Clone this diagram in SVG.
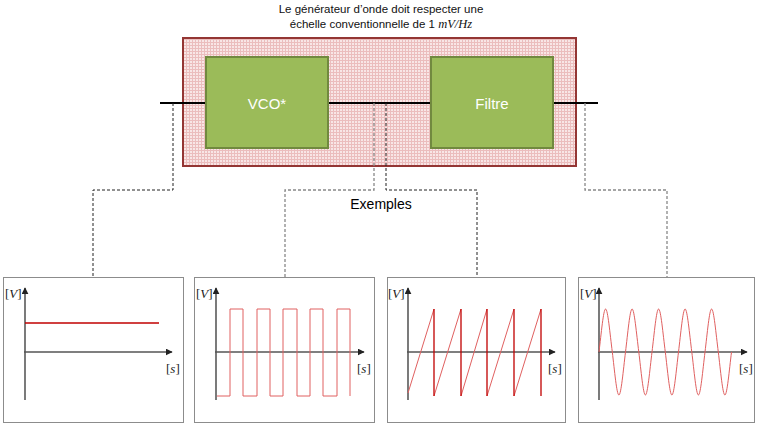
<svg xmlns="http://www.w3.org/2000/svg" width="759" height="426" viewBox="0 0 759 426">
<defs>
<pattern id="grid" width="3" height="3" patternUnits="userSpaceOnUse">
<rect width="3" height="3" fill="#F8E6E6"/>
<path d="M0 0.5H3M0.5 0V3" stroke="#EBBDBD" stroke-width="1"/>
</pattern>
<marker id="arr" viewBox="0 0 10 10" refX="9" refY="5" markerWidth="7" markerHeight="7" orient="auto" markerUnits="userSpaceOnUse">
<path d="M0 0L10 5L0 10Z" fill="#222"/>
</marker>
</defs>
<style>
.title{font-family:"Liberation Sans",Arial,sans-serif;font-size:11.5px;fill:#111}
.math{font-family:"Liberation Serif","DejaVu Serif",serif;font-style:italic}
.block{fill:#9BBB59;stroke:#71893F;stroke-width:2}
.blabel{font-family:"Liberation Sans",Arial,sans-serif;font-size:15px;fill:#fff;text-anchor:middle;dominant-baseline:central}
.wire{stroke:#000;stroke-width:2;fill:none}
.dash{stroke:#222;stroke-width:1;stroke-dasharray:3,2;fill:none}
.dashg{stroke:#888;stroke-width:1.3;stroke-dasharray:3,2;fill:none}
.panel{fill:#fff;stroke:#8C8C8C;stroke-width:1}
.yax{stroke:#222;stroke-width:1.2;fill:none}
.xax{stroke:#555;stroke-width:1.5;fill:none}
.lab{font-family:"Liberation Serif","DejaVu Serif",serif;font-size:13px;fill:#222}
.sig{stroke:#E06060;stroke-width:1;fill:none}
.sigd{stroke:#C00000;stroke-width:1.3;fill:none}
</style>

<g id="title">
<text class="title" x="381" y="13" text-anchor="middle">Le générateur d’onde doit respecter une</text>
<text class="title" x="381" y="28" text-anchor="middle">échelle conventionnelle de 1 <tspan class="math" font-size="12.5">mV</tspan><tspan class="math" font-size="12.5">/</tspan><tspan class="math" font-size="12.5">Hz</tspan></text>
</g>

<g id="generator">
<rect x="183" y="38" width="393" height="128" fill="url(#grid)" stroke="#943634" stroke-width="2"/>
</g>

<g id="connectors">
<path class="wire" d="M160 103H206M328 103H431M553 103H598"/>
<path class="dash" d="M173 103V190H93V277"/>
<path class="dashg" d="M374 103V190H285V277"/>
<path class="dash" d="M386 103V190H477V277"/>
<path class="dashg" d="M585 103V190H667V277"/>
</g>

<g id="vco">
<rect class="block" x="206" y="57" width="122" height="91"/>
<text class="blabel" x="267" y="103">VCO*</text>
</g>

<g id="filtre">
<rect class="block" x="431" y="57" width="122" height="91"/>
<text class="blabel" x="492" y="103">Filtre</text>
</g>

<g id="exemples">
<text x="381" y="209" text-anchor="middle" font-family="Liberation Sans,Arial,sans-serif" font-size="14" fill="#000">Exemples</text>
</g>

<g id="panel-dc">
<rect class="panel" x="3.5" y="277.5" width="180" height="145"/>
<path class="yax" d="M25 400V288" marker-end="url(#arr)"/>
<path class="xax" d="M24 352H172" marker-end="url(#arr)"/>
<path class="sigd" d="M25 323H159" stroke-width="1.2"/>
<text class="lab" x="5" y="298">[<tspan class="math">V</tspan>]</text>
<text class="lab" x="166" y="373">[<tspan class="math">s</tspan>]</text>
</g>

<g id="panel-square">
<rect class="panel" x="194.5" y="277.5" width="180" height="145"/>
<path class="yax" d="M216 400V288" marker-end="url(#arr)"/>
<path class="xax" d="M215 352H364" marker-end="url(#arr)"/>
<path class="sig" d="M217 396H230V309H243V396H257V309H270V396H283V309H297V396H310V309H323V396H337V309H350V396"/>
<text class="lab" x="196" y="298">[<tspan class="math">V</tspan>]</text>
<text class="lab" x="357" y="373">[<tspan class="math">s</tspan>]</text>
</g>

<g id="panel-saw">
<rect class="panel" x="387.5" y="277.5" width="178" height="145"/>
<path class="yax" d="M408 400V288" marker-end="url(#arr)"/>
<path class="xax" d="M407 352H555" marker-end="url(#arr)"/>
<path class="sig" d="M408 393L434 309M434 396L461 309M461 396L487 309M487 396L514 309M514 396L541 309"/>
<path class="sigd" d="M434 309V396M461 309V396M487 309V396M514 309V396M541 309V396"/>
<text class="lab" x="388" y="298">[<tspan class="math">V</tspan>]</text>
<text class="lab" x="548" y="373">[<tspan class="math">s</tspan>]</text>
</g>

<g id="panel-sine">
<rect class="panel" x="578.5" y="277.5" width="176" height="145"/>
<path class="yax" d="M599 400V288" marker-end="url(#arr)"/>
<path class="xax" d="M598 352H747" marker-end="url(#arr)"/>
<path class="sig" d="M599 352C601.2 334 603.4 309 605.6 309C607.8 309 610 334 612.3 352C614.5 370 616.7 395 618.9 395C621.1 395 623.3 370 625.5 352C627.7 334 629.9 309 632.1 309C634.3 309 636.5 334 638.8 352C641 370 643.2 395 645.4 395C647.6 395 649.8 370 652 352C654.2 334 656.4 309 658.6 309C660.8 309 663 334 665.3 352C667.5 370 669.7 395 671.9 395C674.1 395 676.3 370 678.5 352C680.7 334 682.9 309 685.1 309C687.3 309 689.5 334 691.8 352C694 370 696.2 395 698.4 395C700.6 395 702.8 370 705 352C707.2 334 709.4 309 711.6 309C713.8 309 716 334 718.3 352C720.5 370 722.7 395 724.9 395C727.1 395 729.3 370 731.5 352"/>
<text class="lab" x="580" y="298">[<tspan class="math">V</tspan>]</text>
<text class="lab" x="739" y="373">[<tspan class="math">s</tspan>]</text>
</g>
</svg>
